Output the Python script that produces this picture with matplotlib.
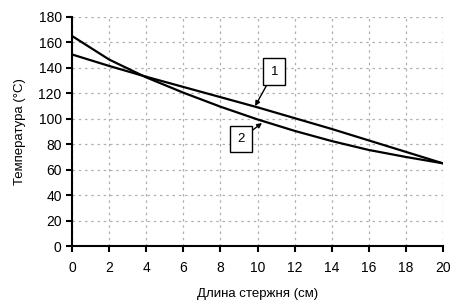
import matplotlib
matplotlib.use('Agg')
import matplotlib.pyplot as plt

# rod temperature profiles
x_cm = [0, 2, 4, 6, 8, 10, 12, 14, 16, 18, 20]
temp_1 = [150.5, 141.5, 133, 125, 117, 109, 100.5, 92, 83, 74, 65]
temp_2 = [165, 146.5, 132.5, 120.5, 109.5, 99.5, 90.5, 82.5, 75.5, 70, 65]

plt.rcParams['font.family'] = ['Liberation Sans', 'DejaVu Sans']

fig = plt.figure(figsize=(4.51, 3.03), dpi=100)
ax = fig.add_axes([0.16, 0.188, 0.822, 0.756])

ax.plot(x_cm, temp_1, color='black', lw=1.6)
ax.plot(x_cm, temp_2, color='black', lw=1.6)

ax.set_xlim(0, 20)
ax.set_ylim(0, 180)
ax.set_xticks(range(0, 21, 2))
ax.set_yticks(range(0, 181, 20))
ax.grid(True, color='#b0b0b0', linestyle=(0, (2, 3)), lw=0.9)
ax.spines['top'].set_visible(False)
ax.spines['right'].set_visible(False)
ax.spines['left'].set_linewidth(1.5)
ax.spines['bottom'].set_linewidth(1.5)
ax.tick_params(direction='out', length=4, width=1.5, labelsize=10)
ax.tick_params(axis='x', pad=7)

ax.set_xlabel('Длина стержня (см)', fontsize=9.5, labelpad=9)
ax.set_ylabel('Температура (°С)', fontsize=9.5, labelpad=9)

box = dict(boxstyle='square,pad=0.55', fc='white', ec='black', lw=1)
arrow = dict(arrowstyle='-|>', color='black', lw=1, mutation_scale=7, shrinkA=0, shrinkB=0)
ax.annotate('1', xy=(9.87, 110), xytext=(10.9, 137), ha='center', va='center',
            fontsize=9.5, bbox=box, arrowprops=arrow)
ax.annotate('2', xy=(10.24, 96.7), xytext=(9.1, 84), ha='center', va='center',
            fontsize=9.5, bbox=box, arrowprops=arrow)

fig.savefig('out.png', dpi=100)
plt.close()
